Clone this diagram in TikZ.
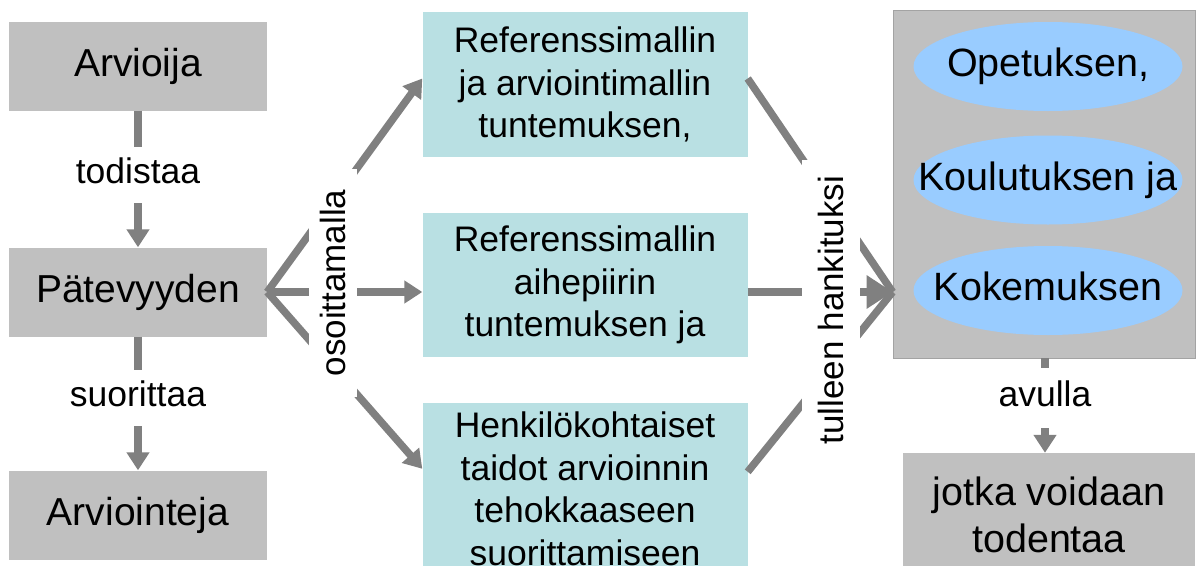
\documentclass[tikz,border=0pt]{standalone}
\usepackage{fontspec}
\setmainfont{Liberation Sans}
\usetikzlibrary{arrows.meta,shapes.geometric}
\definecolor{boxgray}{HTML}{C0C0C0}
\definecolor{tealbg}{HTML}{B9E0E3}
\definecolor{ellblue}{HTML}{99CCFF}
\definecolor{linegray}{HTML}{808080}
\begin{document}
\begin{tikzpicture}[x=1pt,y=-1pt,
  graybox/.style={fill=boxgray, inner sep=0, minimum width=258, minimum height=89,
    text height=28, text depth=8, font=\fontsize{39}{46}\selectfont},
  tealbox/.style={fill=tealbg, inner sep=0, minimum width=325, align=center,
    font=\fontsize{35.5}{42.5}\selectfont},
  lbl/.style={inner sep=0, minimum height=56, text height=24, text depth=7,
    font=\fontsize{35.5}{42}\selectfont},
  ell/.style={ellipse, fill=ellblue, inner sep=0, minimum width=269, minimum height=89},
  elltext/.style={inner sep=0, text height=28, text depth=8, font=\fontsize{39.5}{46}\selectfont},
  conn/.style={draw=linegray, line width=7.5},
  tip/.style={-{Triangle[width=22,length=18]}},
  bigtip/.style={-{Triangle[width=32,length=26]}},
  vlabel/.style={fill=white, rotate=90, inner sep=0, font=\fontsize{35}{42}\selectfont}
]
\path[use as bounding box] (0,0) rectangle (1199,565);
\clip (0,0) rectangle (1199,565);

% left column
\node[graybox] (arv) at (138,66) {Arvioija};
\node[graybox] (pat) at (138,292) {Pätevyyden};
\node[graybox] (arvi) at (138,515) {Arviointeja};
\node[lbl] (tod) at (138,175) {todistaa};
\node[lbl] (suo) at (138,398) {suorittaa};
\draw[conn] (arv) -- (tod);
\draw[conn,tip] (tod) -- (pat);
\draw[conn] (pat) -- (suo);
\draw[conn,tip] (suo) -- (arvi);

% middle column
\node[tealbox, minimum height=145] (t1) at (585,84.5) {Referenssimallin\\ja arviointimallin\\tuntemuksen,};
\node[tealbox, minimum height=144] (t2) at (585,285) {Referenssimallin\\aihepiirin\\tuntemuksen ja};
\node[tealbox, minimum height=172] (t3) at (585,489) {Henkilökohtaiset\\taidot arvioinnin\\tehokkaaseen\\suorittamiseen};

% right column
\node[fill=boxgray, draw=boxgray!85!black, line width=0.8, inner sep=0,
  minimum width=302, minimum height=348] (rb) at (1044,184) {};
\node[ell] (e1) at (1048,66.5) {};
\node[elltext] (e1t) at (e1) {Opetuksen,};
\node[ell] (e2) at (1048,180) {};
\node[elltext] (e2t) at (e2) {Koulutuksen ja};
\node[ell] (e3) at (1048,290.5) {};
\node[elltext] (e3t) at (e3) {Kokemuksen};
\node[lbl, minimum height=60] (avl) at (1045,398) {avulla};
\node[fill=boxgray, inner sep=0, minimum width=292, minimum height=124, align=center,
  font=\fontsize{39.5}{47}\selectfont] (jot) at (1049,515) {jotka voidaan\\todentaa};
\draw[conn] (rb.south -| avl) -- (avl);
\draw[conn,tip] (avl) -- (avl |- jot.north);

% fan from Pätevyyden
\draw[conn,tip] (pat.east) -- ([yshift=6pt]t1.west);
\draw[conn,tip] (pat.east) -- (pat.east -| t2.west);
\draw[conn,tip] (pat.east) -- ([yshift=-66pt]t3.north west);

% fan into right box
\coordinate (conv) at (rb.west |- pat.east);
\draw[conn] ([yshift=6pt]t1.east) -- (conv);
\draw[conn] ([yshift=-69pt]t3.north east) -- (conv);
\draw[conn,bigtip] (pat.east -| t2.east) -- (conv);

% rotated labels
\node[vlabel, minimum width=228, minimum height=48] (oso) at (333,283) {osoittamalla};
\node[vlabel, minimum width=300, minimum height=58] (tul) at (831,310) {tulleen hankituksi};
\end{tikzpicture}
\end{document}
